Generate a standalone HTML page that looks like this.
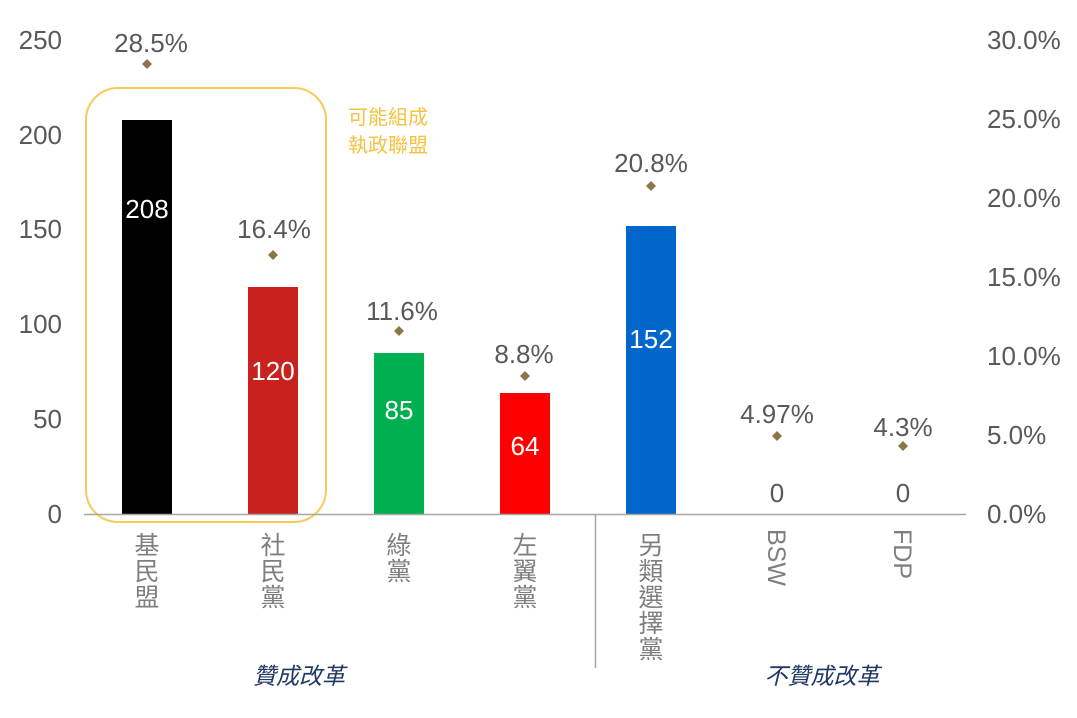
<!DOCTYPE html>
<html><head><meta charset="utf-8"><style>
html,body{margin:0;padding:0;background:#fff;}
svg{display:block;}
text{font-family:"Liberation Sans","Noto Sans CJK TC",sans-serif;}
</style></head><body>
<svg width="1077" height="718" viewBox="0 0 1077 718" xmlns="http://www.w3.org/2000/svg">
<g fill="#595959" font-size="26" text-anchor="end">
<text x="62" y="523">0</text>
<text x="62" y="428">50</text>
<text x="62" y="333">100</text>
<text x="62" y="238">150</text>
<text x="62" y="144">200</text>
<text x="62" y="49">250</text>
</g>
<g fill="#595959" font-size="26" text-anchor="start">
<text x="987" y="523">0.0%</text>
<text x="987" y="444">5.0%</text>
<text x="987" y="365">10.0%</text>
<text x="987" y="286">15.0%</text>
<text x="987" y="207">20.0%</text>
<text x="987" y="128">25.0%</text>
<text x="987" y="49">30.0%</text>
</g>
<rect x="86" y="88" width="240" height="434" rx="32" fill="none" stroke="#fbc95a" stroke-width="2"/>
<rect x="122" y="120" width="50" height="394" fill="#000"/>
<rect x="248" y="287" width="50" height="227" fill="#c9211e"/>
<rect x="374" y="353" width="50" height="161" fill="#00b050"/>
<rect x="500" y="393" width="50" height="121" fill="#ff0000"/>
<rect x="626" y="226" width="50" height="288" fill="#0066cc"/>
<line x1="84" y1="514.5" x2="966" y2="514.5" stroke="#a6a6a6" stroke-width="1.5"/>
<line x1="595.5" y1="514" x2="595.5" y2="668" stroke="#a6a6a6" stroke-width="1.5"/>
<g font-size="26" text-anchor="middle" fill="#fff">
<text x="147" y="218">208</text>
<text x="273" y="380">120</text>
<text x="399" y="419">85</text>
<text x="525" y="455">64</text>
<text x="651" y="348">152</text>
</g>
<g font-size="26" text-anchor="middle" fill="#595959">
<text x="777" y="502">0</text>
<text x="903" y="502">0</text>
<text x="151" y="52">28.5%</text>
<text x="274" y="238">16.4%</text>
<text x="402" y="320">11.6%</text>
<text x="524" y="363">8.8%</text>
<text x="651" y="172">20.8%</text>
<text x="777" y="423">4.97%</text>
<text x="903" y="436">4.3%</text>
</g>
<g fill="#8c7548">
<path d="M147 59l5 5-5 5-5-5z"/>
<path d="M273 250l5 5-5 5-5-5z"/>
<path d="M399 326l5 5-5 5-5-5z"/>
<path d="M525 371l5 5-5 5-5-5z"/>
<path d="M651 181l5 5-5 5-5-5z"/>
<path d="M777 431l5 5-5 5-5-5z"/>
<path d="M903 441l5 5-5 5-5-5z"/>
</g>
<g font-size="20" fill="#f5c242">
<text x="348" y="124">可能組成</text>
<text x="348" y="152">執政聯盟</text>
</g>
<g font-size="25" fill="#7f7f7f" text-anchor="middle">
<text x="147" y="554">基</text><text x="147" y="580">民</text><text x="147" y="606">盟</text>
<text x="273" y="554">社</text><text x="273" y="580">民</text><text x="273" y="606">黨</text>
<text x="399" y="554">綠</text><text x="399" y="580">黨</text>
<text x="525" y="554">左</text><text x="525" y="580">翼</text><text x="525" y="606">黨</text>
<text x="651" y="554">另</text><text x="651" y="580">類</text><text x="651" y="606">選</text><text x="651" y="632">擇</text><text x="651" y="658">黨</text>
<text transform="translate(768,529) rotate(90)" text-anchor="start">BSW</text>
<text transform="translate(894,529) rotate(90)" text-anchor="start">FDP</text>
</g>
<g font-size="23" fill="#1f3864" font-style="italic" text-anchor="middle">
<text x="299" y="684">贊成改革</text>
<text x="822" y="684">不贊成改革</text>
</g>
</svg>
</body></html>
